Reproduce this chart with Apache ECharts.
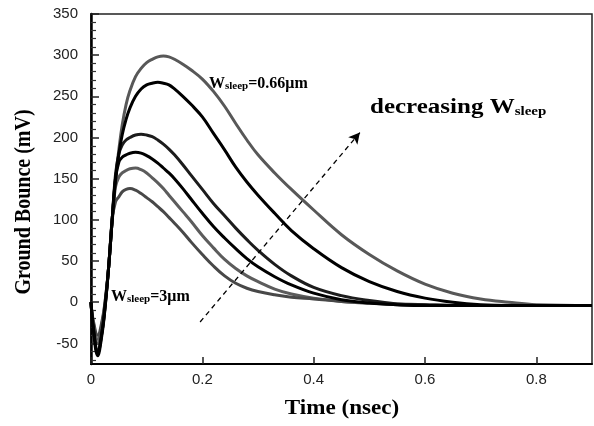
<!DOCTYPE html>
<html>
<head>
<meta charset="utf-8">
<script src="https://cdn.jsdelivr.net/npm/echarts@6/dist/echarts.min.js"></script>
<style>
html,body{margin:0;padding:0;background:#fff;}
#chart{width:594px;height:426px;}
</style>
</head>
<body>
<div id="chart"></div>
<script>
// Time samples (nsec)
const time = [0,0.004,0.012,0.02,0.026,0.032,0.038,0.044,0.05,0.056,0.063,0.07,0.08,0.09,0.1,0.11,0.12,0.13,0.14,0.15,0.165,0.18,0.2,0.22,0.24,0.26,0.28,0.3,0.33,0.36,0.4,0.45,0.5,0.55,0.6,0.65,0.7,0.75,0.8,0.9];
// Ground bounce (mV), curves from W_sleep = 0.66um (largest) down to W_sleep = 3um (smallest)
const bounce066 = [0,-26,-50,-28,2,45,100,150,185,215,240,257,274,284,291,295,298,299,298,295,289,282,271,256,238,217,197,179,157,137,112,82,58,38,22,11,4,0,-3,-4];
const bounceB = [0,-30,-62,-35,0,45,100,148,180,203,222,236,250,259,264,266,267,266,264,259,250,240,225,205,185,164,146,130,108,87,65,42,25,13,5,0,-3,-4,-4,-4];
const bounceC = [0,-30,-58,-35,0,45,100,155,180,191,197,200,203,204,203,201,197,192,186,179,167,154,137,120,105,90,76,63,46,32,18,8,2,-2,-3,-4,-4,-4,-4,-4];
const bounceD = [0,-32,-65,-38,-2,45,100,150,170,176,179,181,182,181,178,174,169,163,157,150,138,125,108,92,78,65,53,43,31,21,11,3,-1,-3,-4,-4,-4,-4,-4,-4];
const bounceE = [0,-24,-45,-25,4,45,100,140,152,157,160,162,163,161,157,151,145,138,130,122,110,98,81,66,52,41,32,25,16,10,5,1,-1,-2,-3,-4,-4,-4,-4,-4];
const bounce3 = [0,-22,-40,-22,5,45,100,122,128,134,137,138,136,132,127,122,116,110,103,96,85,73,58,44,32,23,17,13,9,6,4,1,-1,-3,-4,-4,-4,-4,-4,-4];

const xTicks = [0,0.2,0.4,0.6,0.8];
const yMajor = [-50,0,50,100,150,200,250,300,350];
const yMinor = [-70,-60,-40,-30,-20,-10,10,20,30,40,60,70,80,90,110,120,130,140,160,170,180,190,210,220,230,240,260,270,280,290,310,320,330,340];

// annotation arrow endpoints (data coords)
const arrowFrom = [0.196,-24];
const arrowTo = [0.483,206];

const curves = [
  {d: bounce066, c: '#585858', z: 2},
  {d: bounceB, c: '#000000', z: 5},
  {d: bounceC, c: '#1c1c1c', z: 4},
  {d: bounceD, c: '#000000', z: 5},
  {d: bounceE, c: '#5c5c5c', z: 2},
  {d: bounce3, c: '#484848', z: 3}
];

const chart = echarts.init(document.getElementById('chart'), null, {renderer:'canvas'});
const tickFont = {fontFamily:'"Liberation Sans", Arial, sans-serif', fontSize:15, color:'#222'};
const serif = '"Liberation Serif", "Times New Roman", serif';

const series = curves.map((cv, i) => ({
  type:'line',
  data: time.map((t,k)=>[t, cv.d[k]]),
  showSymbol:false,
  smooth:0.4,
  z: cv.z,
  lineStyle:{color:cv.c, width:3},
  animation:false,
  silent:true
}));
series.push({
  type:'line', data:[], z:6, silent:true, animation:false,
  markLine:{
    silent:true, animation:false,
    symbol:['none','arrow'], symbolSize:[9,11],
    lineStyle:{type:[5,4], color:'#000', width:1.3},
    label:{show:false},
    data:[[{coord:arrowFrom},{coord:arrowTo}]]
  }
});

chart.setOption({
  backgroundColor:'#fff',
  animation:false,
  grid:{left:91, right:2, top:14, bottom:62, show:true, borderColor:'#222', borderWidth:1.5, backgroundColor:'transparent'},
  xAxis:{
    type:'value', min:0, max:0.9,
    axisLine:{show:true, onZero:false, lineStyle:{color:'#000', width:2}},
    axisTick:{show:true, inside:true, length:7, customValues:xTicks, lineStyle:{color:'#222', width:1.5}},
    axisLabel:Object.assign({margin:8, customValues:xTicks}, tickFont),
    splitLine:{show:false}
  },
  yAxis:[{
    type:'value', min:-75, max:350, position:'left',
    axisLine:{show:true, onZero:false, lineStyle:{color:'#000', width:2.5}},
    axisTick:{show:true, inside:true, length:8, customValues:yMajor, lineStyle:{color:'#222', width:1.5}},
    axisLabel:Object.assign({margin:13, customValues:yMajor}, tickFont),
    splitLine:{show:false}
  },{
    type:'value', min:-75, max:350, position:'left', offset:0,
    axisLine:{show:false},
    axisTick:{show:true, inside:true, length:5, customValues:yMinor, lineStyle:{color:'#333', width:1.2}},
    axisLabel:{show:false},
    splitLine:{show:false}
  }],
  series: series,
  graphic:[
    {type:'text', x:24, y:202, rotation:Math.PI/2, scaleY:1.2, z:10,
     style:{text:'Ground Bounce (mV)', font:'bold 20px '+serif, fill:'#000', align:'center', verticalAlign:'middle'}},
    {type:'text', x:342, y:408, z:10, scaleX:1.05,
     style:{text:'Time (nsec)', font:'bold 22px '+serif, fill:'#000', align:'center', verticalAlign:'middle'}},
    {type:'text', x:209, y:82, z:10,
     style:{text:'{a|W}{b|sleep}{a|=0.66μm}', align:'left', verticalAlign:'middle',
       rich:{a:{font:'bold 16px '+serif, fill:'#000', lineHeight:20, verticalAlign:'bottom'},
             b:{font:'bold 11px '+serif, fill:'#000', lineHeight:10, verticalAlign:'bottom'}}}},
    {type:'text', x:111, y:295, z:10,
     style:{text:'{a|W}{b|sleep}{a|=3μm}', align:'left', verticalAlign:'middle',
       rich:{a:{font:'bold 16px '+serif, fill:'#000', lineHeight:20, verticalAlign:'bottom'},
             b:{font:'bold 11px '+serif, fill:'#000', lineHeight:10, verticalAlign:'bottom'}}}},
    {type:'text', x:370, y:106, z:10, scaleX:1.25,
     style:{text:'{a|decreasing W}{b|sleep}', align:'left', verticalAlign:'middle',
       rich:{a:{font:'bold 20px '+serif, fill:'#000', lineHeight:24, verticalAlign:'bottom'},
             b:{font:'bold 12px '+serif, fill:'#000', lineHeight:12, verticalAlign:'bottom'}}}}
  ]
});
</script>
</body>
</html>
